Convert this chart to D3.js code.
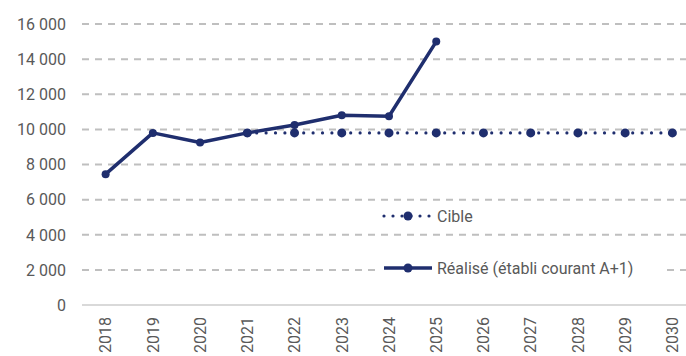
<!DOCTYPE html>
<html>
<head>
<meta charset="utf-8">
<script src="https://cdn.jsdelivr.net/npm/d3@7"></script>
<style>
  body { margin: 0; background: #fff; }
  text { font-family: Roboto, "Liberation Sans", sans-serif; fill: #595959; }
</style>
</head>
<body>
<svg id="chart"></svg>
<script>
// data
const years = ["2018", "2019", "2020", "2021", "2022", "2023", "2024", "2025", "2026", "2027", "2028", "2029", "2030"];
const realise = [7450, 9800, 9250, 9800, 10250, 10800, 10750, 15000, null, null, null, null, null];
const cible = [null, null, null, 9800, 9800, 9800, 9800, 9800, 9800, 9800, 9800, 9800, 9800];
const yTicks = [0, 2000, 4000, 6000, 8000, 10000, 12000, 14000, 16000];

const width = 686, height = 356;
const margin = { top: 24, right: -10, bottom: 51, left: 82 };
const navy = "#1f2e6e";

const svg = d3.select("#chart").attr("width", width).attr("height", height);

const x = d3.scaleBand()
  .domain(years)
  .range([margin.left, width - margin.right]);
const y = d3.scaleLinear()
  .domain([0, 16000])
  .range([height - margin.bottom, margin.top]);

const fmt = v => d3.format(",")(v).replace(/,/g, " ");
const cx = d => x(d) + x.bandwidth() / 2;

// gridlines
svg.append("g")
  .selectAll("line")
  .data(yTicks.filter(d => d > 0))
  .join("line")
  .attr("x1", margin.left)
  .attr("x2", width)
  .attr("y1", d => y(d))
  .attr("y2", d => y(d))
  .attr("stroke", "#bfbfbf")
  .attr("stroke-width", 2)
  .attr("stroke-dasharray", "7,6");

// baseline
svg.append("line")
  .attr("x1", margin.left)
  .attr("x2", width)
  .attr("y1", y(0))
  .attr("y2", y(0))
  .attr("stroke", "#d9d9d9")
  .attr("stroke-width", 2);

// y labels
svg.append("g")
  .selectAll("text")
  .data(yTicks)
  .join("text")
  .attr("x", 66)
  .attr("y", d => y(d))
  .attr("dy", "0.36em")
  .attr("text-anchor", "end")
  .style("font-size", "16px")
  .text(fmt);

// x labels (rotated)
svg.append("g")
  .selectAll("text")
  .data(years)
  .join("text")
  .attr("transform", d => `translate(${cx(d)},${y(0) + 12}) rotate(-90)`)
  .attr("dy", "0.36em")
  .attr("text-anchor", "end")
  .style("font-size", "16px")
  .text(d => d);

// cible series
const cibleData = years.map((d, i) => ({ year: d, v: cible[i] })).filter(d => d.v != null);
const realData = years.map((d, i) => ({ year: d, v: realise[i] })).filter(d => d.v != null);

const line = d3.line().x(d => cx(d.year)).y(d => y(d.v));

svg.append("path")
  .datum(cibleData)
  .attr("d", line)
  .attr("fill", "none")
  .attr("stroke", navy)
  .attr("stroke-width", 3.2)
  .attr("stroke-linecap", "round")
  .attr("stroke-dasharray", "0,9.4");

svg.append("g")
  .selectAll("circle")
  .data(cibleData)
  .join("circle")
  .attr("cx", d => cx(d.year))
  .attr("cy", d => y(d.v))
  .attr("r", 4.5)
  .attr("fill", navy);

// realise series
svg.append("path")
  .datum(realData)
  .attr("d", line)
  .attr("fill", "none")
  .attr("stroke", navy)
  .attr("stroke-width", 3.5)
  .attr("stroke-linejoin", "round");

svg.append("g")
  .selectAll("circle")
  .data(realData)
  .join("circle")
  .attr("cx", d => cx(d.year))
  .attr("cy", d => y(d.v))
  .attr("r", 4)
  .attr("fill", navy);

// legend
const legend = svg.append("g");
const items = [
  { name: "Cible", dash: "0,9", w: 3.2, y: 216 },
  { name: "Réalisé (établi courant A+1)", dash: null, w: 3.5, y: 268 }
];
items.forEach(it => {
  legend.append("rect")
    .attr("x", 376).attr("y", it.y - 14).attr("width", 290).attr("height", 28)
    .attr("fill", "#fff");
  legend.append("line")
    .attr("x1", 384).attr("x2", 432)
    .attr("y1", it.y).attr("y2", it.y)
    .attr("stroke", navy)
    .attr("stroke-width", it.w)
    .attr("stroke-linecap", it.dash ? "round" : "butt")
    .attr("stroke-dasharray", it.dash);
  legend.append("circle")
    .attr("cx", 408).attr("cy", it.y).attr("r", 4.5).attr("fill", navy);
  legend.append("text")
    .attr("x", 437).attr("y", it.y)
    .attr("dy", "0.36em")
    .style("font-size", "16px")
    .text(it.name);
});
</script>
</body>
</html>
